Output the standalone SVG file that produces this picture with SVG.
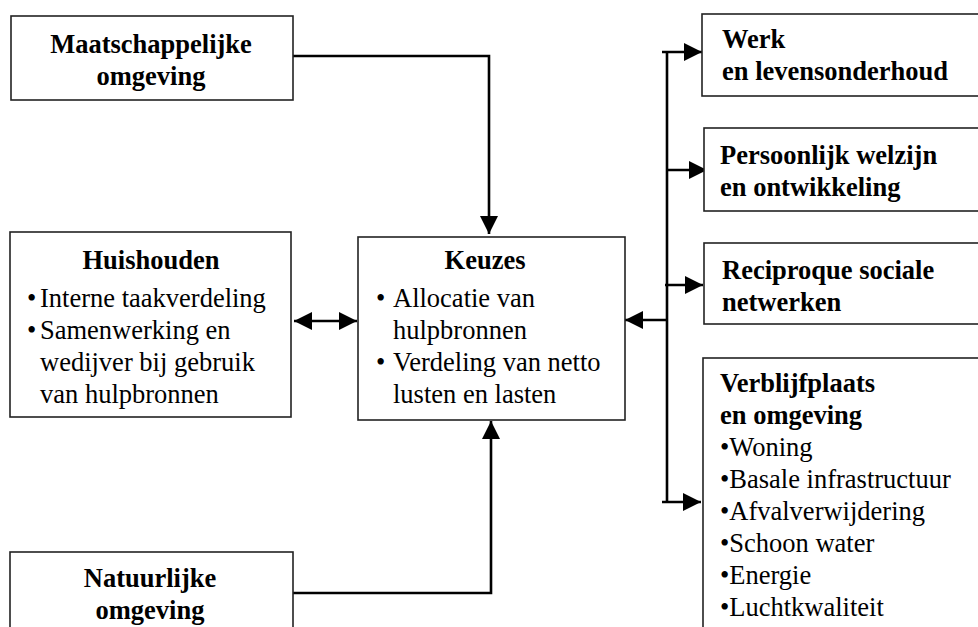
<svg xmlns="http://www.w3.org/2000/svg" width="978" height="627" viewBox="0 0 978 627">
<style>
.box{fill:#fff;stroke:#222;stroke-width:1.6}
.t{font-family:"Liberation Serif","Times New Roman",serif;font-size:26.5px;fill:#000}
.b{font-weight:bold}
.c{text-anchor:middle}
.ln{fill:none;stroke:#000;stroke-width:2.6}
</style>
<defs>
<marker id="ah" markerUnits="userSpaceOnUse" markerWidth="19" markerHeight="18" refX="18" refY="9" orient="auto-start-reverse" viewBox="0 0 19 18">
<path d="M0,0 L18,9 L0,18 Z" fill="#000"/>
</marker>
</defs>
<rect width="978" height="627" fill="#fff"/>
<g id="connectors">
<path class="ln" d="M293,56 H489 V234" marker-end="url(#ah)"/>
<path class="ln" d="M293,593 H491 V421" marker-end="url(#ah)"/>
<path class="ln" d="M294,321 H357" marker-start="url(#ah)" marker-end="url(#ah)"/>
<path class="ln" d="M667,52 V503"/>
<path class="ln" d="M662,52 H702" marker-end="url(#ah)"/>
<path class="ln" d="M667,170 H707" marker-end="url(#ah)"/>
<path class="ln" d="M665,285 H703" marker-end="url(#ah)"/>
<path class="ln" d="M662,502 H701" marker-end="url(#ah)"/>
<path class="ln" d="M667,320 H625" marker-end="url(#ah)"/>
</g>
<g id="maatschappelijke">
<rect class="box" x="11" y="16" width="282" height="84"/>
<text class="t b c" x="151" y="53">Maatschappelijke</text>
<text class="t b c" x="151" y="85">omgeving</text>
</g>
<g id="huishouden">
<rect class="box" x="10" y="232" width="281" height="185"/>
<text class="t b c" x="151" y="269">Huishouden</text>
<text class="t" y="307"><tspan x="27">•</tspan><tspan x="40">Interne taakverdeling</tspan></text>
<text class="t" y="339"><tspan x="27">•</tspan><tspan x="40">Samenwerking en</tspan></text>
<text class="t" x="40" y="371">wedijver bij gebruik</text>
<text class="t" x="40" y="403">van hulpbronnen</text>
</g>
<g id="keuzes">
<rect class="box" x="358" y="237" width="267" height="183"/>
<text class="t b c" x="485" y="269">Keuzes</text>
<text class="t" y="307"><tspan x="376">•</tspan><tspan x="393">Allocatie van</tspan></text>
<text class="t" x="393" y="339">hulpbronnen</text>
<text class="t" y="371"><tspan x="376">•</tspan><tspan x="393">Verdeling van netto</tspan></text>
<text class="t" x="393" y="403">lusten en lasten</text>
</g>
<g id="natuurlijke">
<rect class="box" x="10" y="552" width="283" height="100"/>
<text class="t b c" x="150" y="587">Natuurlijke</text>
<text class="t b c" x="150" y="619">omgeving</text>
</g>
<g id="werk">
<rect class="box" x="702" y="14" width="300" height="82"/>
<text class="t b" x="722" y="48">Werk</text>
<text class="t b" x="722" y="80">en levensonderhoud</text>
</g>
<g id="persoonlijk">
<rect class="box" x="704" y="128" width="300" height="83"/>
<text class="t b" x="720" y="164">Persoonlijk welzijn</text>
<text class="t b" x="720" y="196">en ontwikkeling</text>
</g>
<g id="reciproque">
<rect class="box" x="704" y="243" width="300" height="81"/>
<text class="t b" x="722" y="279">Reciproque sociale</text>
<text class="t b" x="722" y="311">netwerken</text>
</g>
<g id="verblijfplaats">
<rect class="box" x="703" y="358" width="300" height="300"/>
<text class="t b" x="720" y="392">Verblijfplaats</text>
<text class="t b" x="720" y="424">en omgeving</text>
<text class="t" x="720" y="456">•Woning</text>
<text class="t" x="720" y="488">•Basale infrastructuur</text>
<text class="t" x="720" y="520">•Afvalverwijdering</text>
<text class="t" x="720" y="552">•Schoon water</text>
<text class="t" x="720" y="584">•Energie</text>
<text class="t" x="720" y="616">•Luchtkwaliteit</text>
</g>
</svg>
